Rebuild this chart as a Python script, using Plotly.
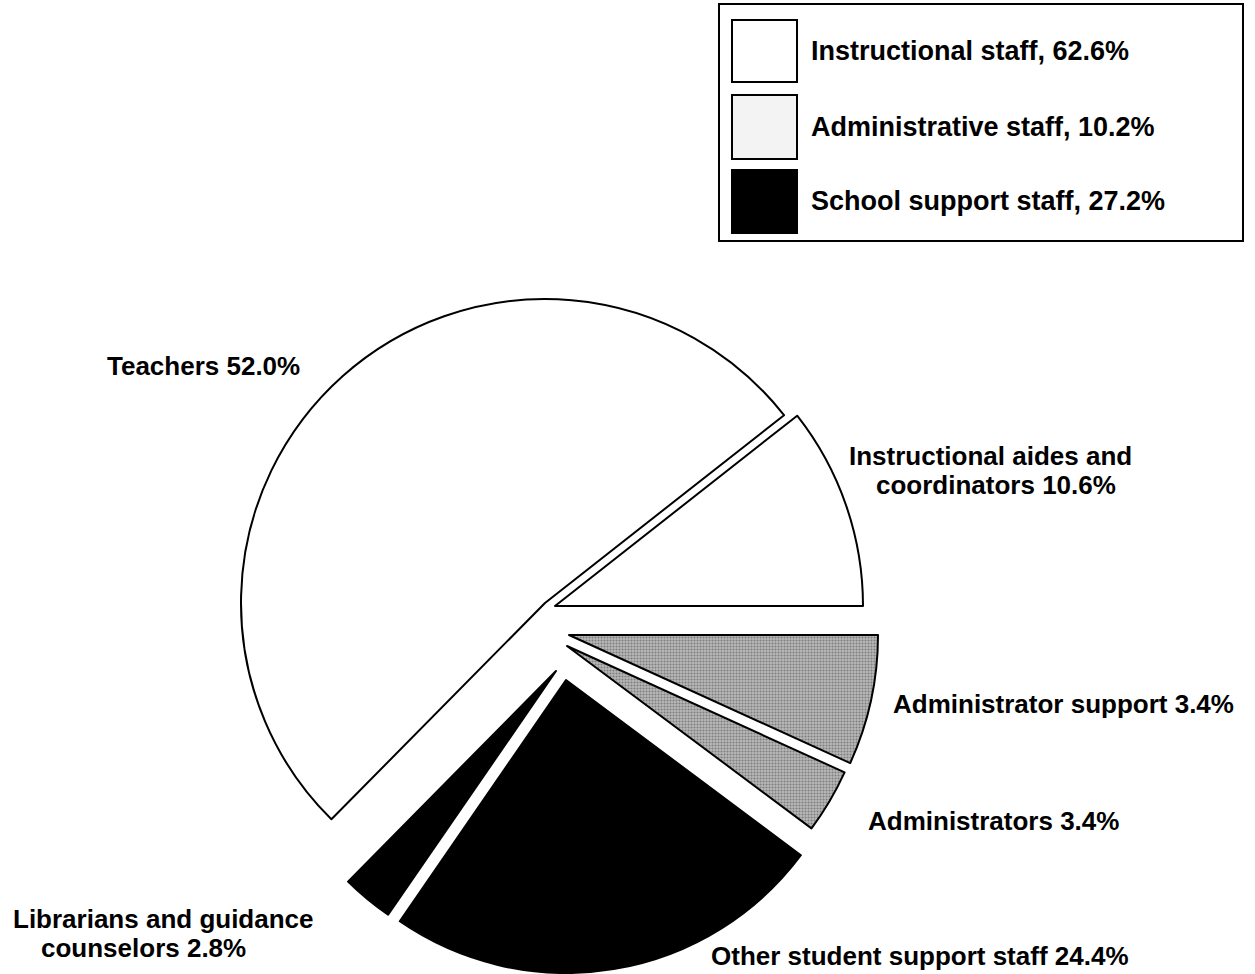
import plotly.graph_objects as go

W, H = 1255, 974

# ---------------- data ----------------
categories = [
    "Teachers",
    "Instructional aides and<br>coordinators",
    "Administrator support",
    "Administrators",
    "Other student support staff",
    "Librarians and guidance<br>counselors",
]
shares = [52.0, 10.6, 6.8, 3.4, 24.4, 2.8]        # slice sizes as drawn
printed_pct = [52.0, 10.6, 3.4, 3.4, 24.4, 2.8]   # percentages printed in the labels
slice_group = [0, 0, 1, 1, 2, 2]

groups = ["Instructional staff", "Administrative staff", "School support staff"]
group_pct = [62.6, 10.2, 27.2]

# ---------------- styles / positions ----------------
group_fill = ["#ffffff", "#b8b8b8", "#000000"]
group_pattern = ["", ".", ""]
legend_fill = ["#ffffff", "#f3f3f3", "#000000"]

# vertex (px) and radius of each exploded slice
slice_center = [(545, 603), (555, 606), (569, 635), (567, 646), (566, 680), (556, 671)]
slice_radius = [304, 308, 309, 305, 293, 296]

# label line positions (left edge x, middle y) in px
label_pos = [
    [(106, 366)],
    [(848, 456), (875, 485)],
    [(892, 704)],
    [(867, 821)],
    [(710, 956)],
    [(12, 919), (40, 948)],
]

FONT = "Arial, 'Liberation Sans', Helvetica, sans-serif"
FS = 26

# first slice (Teachers) starts so that "Administrator support" begins at 3 o'clock
rotation = 90 - 360 * (shares[0] + shares[1]) / sum(shares)

fig = go.Figure()
n = len(shares)
for i in range(n):
    g = slice_group[i]
    colors = ["rgba(0,0,0,0)"] * n
    colors[i] = group_fill[g]
    lw = [0] * n
    lw[i] = 2
    shapes_p = [""] * n
    shapes_p[i] = group_pattern[g]
    cx, cy = slice_center[i]
    r = slice_radius[i]
    fig.add_trace(go.Pie(
        labels=[c.replace("<br>", " ") for c in categories],
        values=shares,
        sort=False,
        direction="clockwise",
        rotation=rotation,
        textinfo="none",
        hoverinfo="skip",
        showlegend=False,
        marker=dict(
            colors=colors,
            line=dict(color="black", width=lw),
            pattern=dict(shape=shapes_p, fgcolor="#444444", size=3,
                         solidity=0.4, fillmode="overlay"),
        ),
        domain=dict(x=[(cx - r) / W, (cx + r) / W],
                    y=[1 - (cy + r) / H, 1 - (cy - r) / H]),
    ))

annotations = []
for i, cat in enumerate(categories):
    lines = cat.split("<br>")
    lines[-1] = f"{lines[-1]} {printed_pct[i]:.1f}%"
    for line, (px, py) in zip(lines, label_pos[i]):
        annotations.append(dict(
            x=px / W, y=1 - py / H, xref="paper", yref="paper",
            xanchor="left", yanchor="middle", showarrow=False, borderpad=0,
            text=line, font=dict(family=FONT, size=FS, color="black", weight="bold"),
        ))

# legend box
shapes = [dict(type="rect", xref="paper", yref="paper",
               x0=719 / W, x1=1243 / W, y0=1 - 241 / H, y1=1 - 4 / H,
               line=dict(color="black", width=2), fillcolor="white")]
sw_y = [(20, 82), (95, 159), (170, 233)]
for k, grp in enumerate(groups):
    y0, y1 = sw_y[k]
    shapes.append(dict(type="rect", xref="paper", yref="paper",
                       x0=732 / W, x1=797 / W, y0=1 - y1 / H, y1=1 - y0 / H,
                       line=dict(color="black", width=2), fillcolor=legend_fill[k]))
    annotations.append(dict(
        x=809 / W, y=1 - ((y0 + y1) / 2) / H, xref="paper", yref="paper",
        xanchor="left", yanchor="middle", showarrow=False,
        text=f"{grp}, {group_pct[k]:.1f}%",
        font=dict(family=FONT, size=27, color="black", weight="bold"),
    ))

fig.update_layout(
    width=W, height=H,
    margin=dict(l=0, r=0, t=0, b=0),
    paper_bgcolor="white", plot_bgcolor="white",
    annotations=annotations, shapes=shapes,
    showlegend=False,
)

fig.write_html("out.html", config={"displayModeBar": False},
               post_script="document.body.style.margin='0';document.body.style.overflow='hidden';")
